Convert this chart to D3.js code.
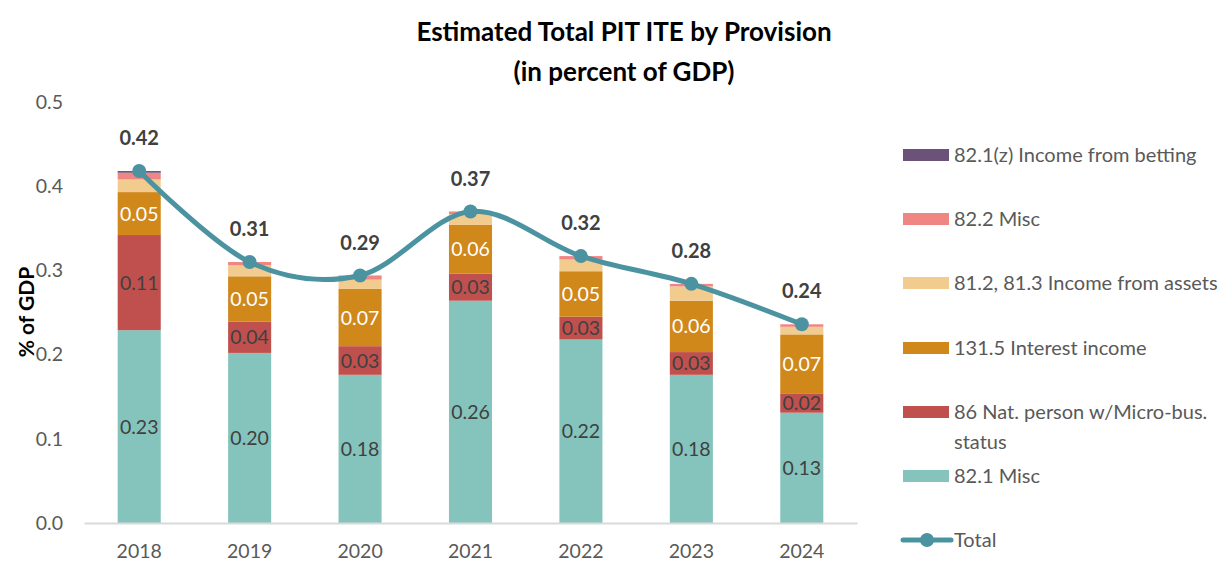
<!DOCTYPE html>
<html>
<head>
<meta charset="utf-8">
<script src="https://cdn.jsdelivr.net/npm/d3@7"></script>
<style>
  body { margin: 0; background: #fff; }
  text { font-family: Lato, "Open Sans", sans-serif; }
</style>
</head>
<body>
<div id="chart"></div>
<script>
// stacked bars + smoothed total line

var years = ["2018", "2019", "2020", "2021", "2022", "2023", "2024"];

// series, bottom to top
var misc821   = [0.229, 0.202, 0.176, 0.264, 0.218, 0.176, 0.131];
var microBus  = [0.113, 0.037, 0.034, 0.032, 0.027, 0.027, 0.023];
var interest  = [0.051, 0.054, 0.068, 0.058, 0.054, 0.061, 0.070];
var assets    = [0.015, 0.013, 0.011, 0.013, 0.014, 0.017, 0.009];
var misc822   = [0.008, 0.004, 0.005, 0.003, 0.004, 0.003, 0.003];
var betting   = [0.002, 0, 0, 0, 0, 0, 0];

var yTicks = [0, 0.1, 0.2, 0.3, 0.4, 0.5];

var series = [
  {key: "misc821",  name: "82.1 Misc", values: misc821, color: "#85c4bd", label: "#404040"},
  {key: "microBus", name: "86 Nat. person w/Micro-bus. status", values: microBus, color: "#c0504d", label: "#404040"},
  {key: "interest", name: "131.5 Interest income", values: interest, color: "#d0881b", label: "#ffffff"},
  {key: "assets",   name: "81.2, 81.3 Income from assets", values: assets, color: "#f2cb8f", label: null},
  {key: "misc822",  name: "82.2 Misc", values: misc822, color: "#f08684", label: null},
  {key: "betting",  name: "82.1(z) Income from betting", values: betting, color: "#6a5279", label: null}
];

var width = 1222,
    height = 565;

var svg = d3.select("#chart").append("svg")
    .attr("width", width)
    .attr("height", height);

// build table for the stack
var table = years.map(function(y, i) {
  var row = {year: y};
  series.forEach(function(s) { row[s.key] = s.values[i]; });
  return row;
});
var totals = table.map(function(r) {
  return d3.sum(series, function(s) { return r[s.key]; });
});

var xScale = d3.scaleBand()
    .domain(years)
    .range([84, 857])
    .paddingInner(0.61)
    .paddingOuter(0.305);

var yScale = d3.scaleLinear()
    .domain([0, 0.5])
    .range([523, 102]);

// title
svg.append("text")
    .attr("x", 624).attr("y", 41)
    .attr("text-anchor", "middle")
    .style("font-size", "26px").style("font-weight", "bold").style("fill", "#000")
    .text("Estimated Total PIT ITE by Provision");
svg.append("text")
    .attr("x", 624).attr("y", 81)
    .attr("text-anchor", "middle")
    .style("font-size", "26px").style("font-weight", "bold").style("fill", "#000")
    .text("(in percent of GDP)");

// y axis (labels only)
var yAxis = d3.axisLeft(yScale)
    .tickValues(yTicks)
    .tickFormat(d3.format(".1f"))
    .tickSize(0)
    .tickPadding(0);
var gy = svg.append("g")
    .attr("transform", "translate(63,0)")
    .call(yAxis);
gy.select(".domain").remove();
gy.selectAll("text")
    .style("font-size", "19.5px").style("fill", "#595959")
    .style("font-family", "Lato, sans-serif");

svg.append("text")
    .attr("transform", "translate(34,312) rotate(-90)")
    .attr("text-anchor", "middle")
    .style("font-size", "21px").style("font-weight", "bold").style("fill", "#000")
    .text("% of GDP");

// stacked bars
var stack = d3.stack().keys(series.map(function(s) { return s.key; }));
var layers = stack(table);

var gLayer = svg.selectAll("g.layer")
    .data(layers)
  .enter().append("g")
    .attr("class", "layer")
    .attr("fill", function(d, i) { return series[i].color; });

gLayer.selectAll("rect")
    .data(function(d) { return d; })
  .enter().append("rect")
    .attr("x", function(d) { return xScale(d.data.year); })
    .attr("width", xScale.bandwidth())
    .attr("y", function(d) { return yScale(d[1]); })
    .attr("height", function(d) { return yScale(d[0]) - yScale(d[1]); });

// segment labels
layers.forEach(function(layer, i) {
  var s = series[i];
  if (!s.label) return;
  svg.append("g").selectAll("text")
      .data(layer)
    .enter().append("text")
      .attr("x", function(d) { return xScale(d.data.year) + xScale.bandwidth() / 2; })
      .attr("y", function(d) { return (yScale(d[0]) + yScale(d[1])) / 2; })
      .attr("dy", "0.36em")
      .attr("text-anchor", "middle")
      .style("font-size", "19.5px")
      .style("fill", s.label)
      .text(function(d) { return (d[1] - d[0]).toFixed(2); });
});

// x axis
var xAxis = d3.axisBottom(xScale).tickSize(0).tickPadding(21);
var gx = svg.append("g")
    .attr("transform", "translate(0,523)")
    .call(xAxis);
gx.select(".domain").attr("stroke", "#d9d9d9").attr("stroke-width", 2);
gx.selectAll("text")
    .style("font-size", "19.5px").style("fill", "#595959")
    .style("font-family", "Lato, sans-serif");

// total line
var lineColor = "#4b93a0";
var cx = function(i) { return xScale(years[i]) + xScale.bandwidth() / 2; };
var line = d3.line()
    .x(function(d, i) { return cx(i); })
    .y(function(d) { return yScale(d); })
    .curve(d3.curveCardinal.tension(0));

svg.append("path")
    .datum(totals)
    .attr("fill", "none")
    .attr("stroke", lineColor)
    .attr("stroke-width", 5)
    .attr("stroke-linecap", "round")
    .attr("d", line);

svg.selectAll("circle.total")
    .data(totals)
  .enter().append("circle")
    .attr("class", "total")
    .attr("cx", function(d, i) { return cx(i); })
    .attr("cy", function(d) { return yScale(d); })
    .attr("r", 7)
    .attr("fill", lineColor);

svg.selectAll("text.total")
    .data(totals)
  .enter().append("text")
    .attr("class", "total")
    .attr("x", function(d, i) { return cx(i); })
    .attr("y", function(d) { return yScale(d) - 33; })
    .attr("dy", "0.36em")
    .attr("text-anchor", "middle")
    .style("font-size", "20px").style("font-weight", "bold").style("fill", "#404040")
    .text(function(d) { return d.toFixed(2); });

// legend
var legendItems = series.slice().reverse();
var legendY = [155, 219, 283, 348, 412, 476];
var legend = svg.append("g");
legendItems.forEach(function(s, i) {
  var y = legendY[i];
  legend.append("rect")
      .attr("x", 903).attr("y", y - 6)
      .attr("width", 46).attr("height", 12)
      .attr("fill", s.color);
  var t = legend.append("text")
      .attr("x", 954).attr("y", y)
      .attr("dy", "0.36em")
      .style("font-size", "20px").style("fill", "#595959");
  if (s.key == "microBus") {
    t.text("86 Nat. person w/Micro-bus.");
    legend.append("text")
        .attr("x", 954).attr("y", y + 30)
        .attr("dy", "0.36em")
        .style("font-size", "20px").style("fill", "#595959")
        .text("status");
  } else {
    t.text(s.name);
  }
});
legend.append("line")
    .attr("x1", 903).attr("x2", 951)
    .attr("y1", 540).attr("y2", 540)
    .attr("stroke", lineColor).attr("stroke-width", 5)
    .attr("stroke-linecap", "round");
legend.append("circle")
    .attr("cx", 927).attr("cy", 540).attr("r", 7)
    .attr("fill", lineColor);
legend.append("text")
    .attr("x", 954).attr("y", 540)
    .attr("dy", "0.36em")
    .style("font-size", "20px").style("fill", "#595959")
    .text("Total");
</script>
</body>
</html>
